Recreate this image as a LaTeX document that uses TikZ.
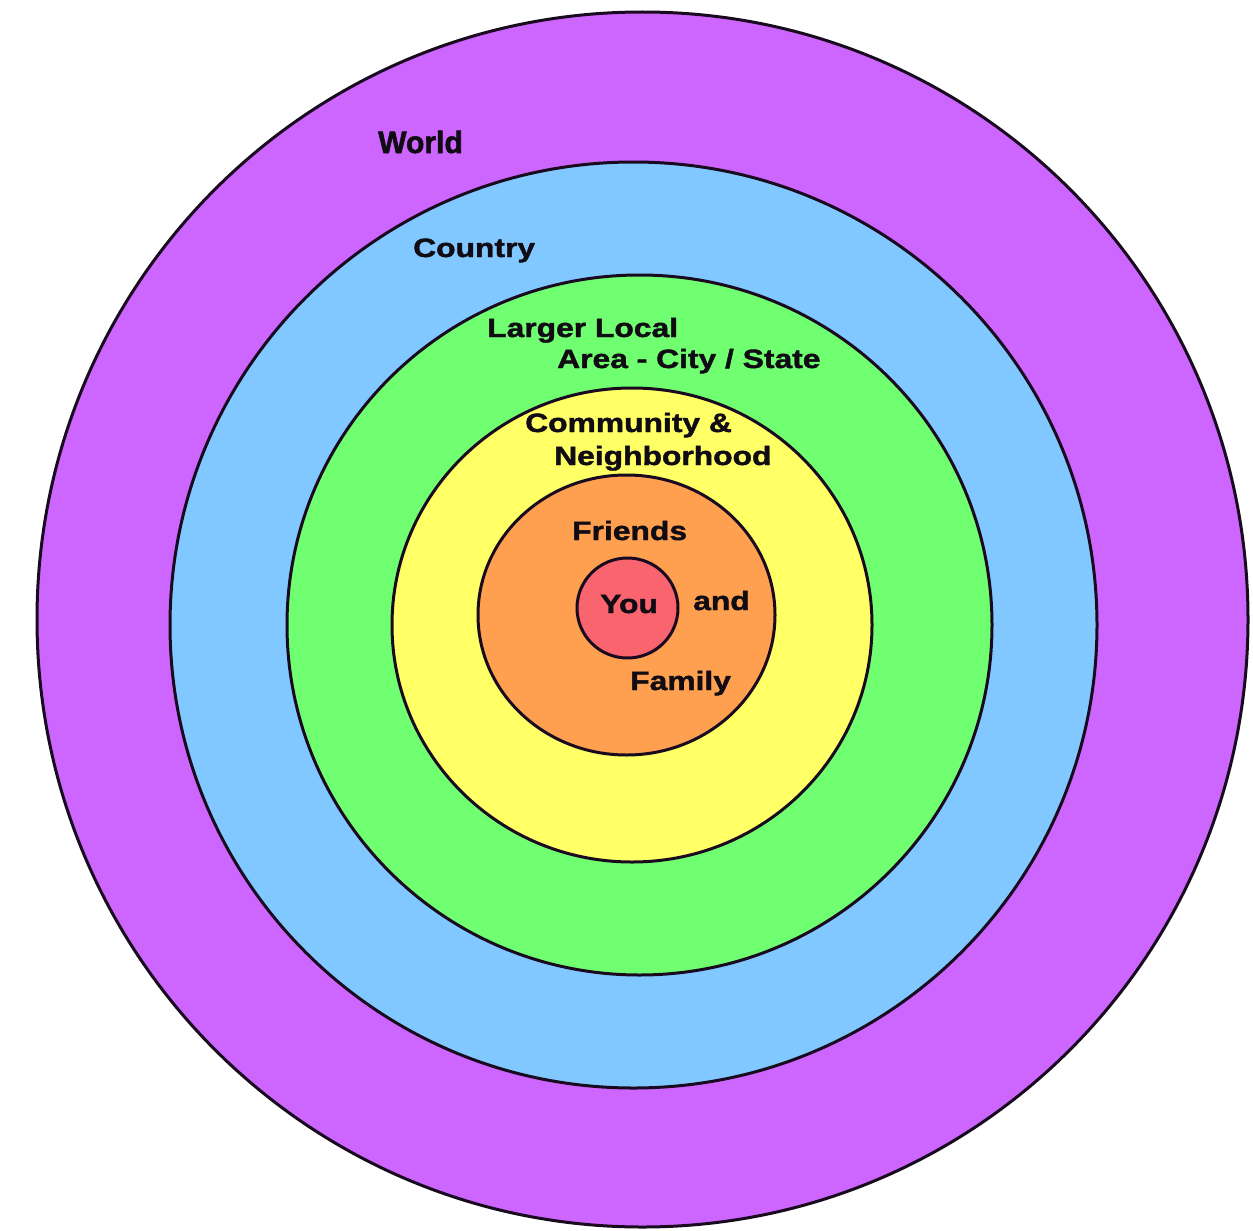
\documentclass[tikz,border=0pt]{standalone}
\usepackage{fontspec}
\newfontfamily\lblfont[FakeStretch=1.2,FakeBold=1.6]{Liberation Sans}
\newfontfamily\wfont[FakeStretch=0.97,FakeBold=1.8]{Liberation Sans}
\definecolor{cpurple}{RGB}{205,102,255}
\definecolor{cblue}{RGB}{128,200,255}
\definecolor{cgreen}{RGB}{112,255,112}
\definecolor{cyellow}{RGB}{255,255,102}
\definecolor{corange}{RGB}{255,160,80}
\definecolor{cred}{RGB}{250,100,110}
\definecolor{cline}{RGB}{26,10,32}
\definecolor{ctext}{RGB}{17,12,20}
\tikzset{
  ring/.style={draw=cline, line width=3pt},
  lbl/.style={anchor=base west, inner sep=0pt, text=ctext,
    font=\lblfont\bfseries\fontsize{26.5}{30}\selectfont},
  wlbl/.style={anchor=base west, inner sep=0pt, text=ctext,
    font=\wfont\bfseries\fontsize{31}{34}\selectfont}
}
\begin{document}
\begin{tikzpicture}[x=1pt,y=-1pt]
\useasboundingbox[fill=white] (0,0) rectangle (1253,1231);
\draw[ring, fill=cpurple] (642.5,619.5) ellipse [x radius=605.5, y radius=607.5];
\draw[ring, fill=cblue] (633.5,625) ellipse [x radius=463.5, y radius=463];
\draw[ring, fill=cgreen] (639.5,625) ellipse [x radius=352.5, y radius=350];
\draw[ring, fill=cyellow] (632,625) ellipse [x radius=240, y radius=237];
\draw[ring, fill=corange] (626.5,615) ellipse [x radius=148.5, y radius=140];
\draw[ring, fill=cred] (627.5,608) ellipse [x radius=50.5, y radius=50];
\node[wlbl] (world) at (378,153) {World};
\node[lbl] (country) at (413,257) {Country};
\node[lbl] (larger) at (487,337) {Larger Local};
\node[lbl] (area) at (557,368) {Area - City / State};
\node[lbl] (community) at (525,432) {Community \&};
\node[lbl] (neigh) at (554,465) {Neighborhood};
\node[lbl] (friends) at (572,540) {Friends};
\node[lbl] (you) at (600,613) {You};
\node[lbl] (and) at (693,610) {and};
\node[lbl] (family) at (630,690) {Family};
\end{tikzpicture}
\end{document}
